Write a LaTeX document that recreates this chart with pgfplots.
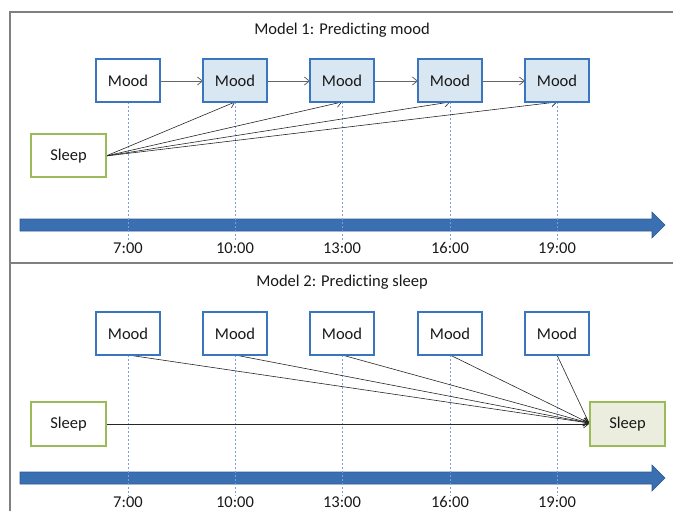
\documentclass[border=0pt]{standalone}
\usepackage{pgfplots}
\pgfplotsset{compat=1.18}
\usepackage{fontspec}
\setmainfont{Carlito}[Ligatures=NoCommon]
\usetikzlibrary{arrows.meta}
\definecolor{moodb}{RGB}{58,118,190}
\definecolor{moodf}{RGB}{216,231,242}
\definecolor{sleepb}{RGB}{155,187,89}
\definecolor{sleepf}{RGB}{235,238,222}
\definecolor{tlf}{RGB}{58,112,178}
\definecolor{tld}{RGB}{44,88,145}
\definecolor{dash}{RGB}{120,160,222}
\definecolor{frame}{RGB}{128,128,128}
\tikzset{
  mbox/.style={draw=moodb, line width=1.4pt, line join=miter},
  sbox/.style={draw=sleepb, line width=1.4pt, line join=miter},
  dl/.style={draw=dash, line width=0.6pt, dash pattern=on 2pt off 2pt},
  ar/.style={draw=black!85, line width=0.6pt, -{Straight Barb[length=5pt,width=8pt]}},
  ag/.style={draw=black!60, line width=0.8pt, -{Straight Barb[length=5pt,width=8pt]}},
  lab/.style={font=\fontsize{16.5}{19}\selectfont, text=black!90, inner sep=0pt}
}
\begin{document}
\begin{tikzpicture}
\begin{axis}[scale only axis, width=673pt, height=511pt,
  xmin=0, xmax=673, ymin=0, ymax=511, y dir=reverse, hide axis, clip=true]
% frame
\addplot[draw=frame, line width=2pt] coordinates {(10,540) (10,12) (700,12)};
\addplot[draw=frame, line width=2pt] coordinates {(10,263) (700,263)};
% timelines
\addplot[fill=tlf, draw=tld, line width=0.6pt] coordinates {(20,219) (652,219) (652,212) (665,225) (652,238) (652,231) (20,231)} -- cycle;
\addplot[fill=tlf, draw=tld, line width=0.6pt] coordinates {(20,472) (652,472) (652,465) (665,478) (652,491) (652,484) (20,484)} -- cycle;
% dashed guides
\addplot[dl] coordinates {(128,102) (128,242)};
\addplot[dl] coordinates {(235,102) (235,242)};
\addplot[dl] coordinates {(342,102) (342,242)};
\addplot[dl] coordinates {(450,102) (450,242)};
\addplot[dl] coordinates {(557,102) (557,242)};
\addplot[dl] coordinates {(128,355) (128,496)};
\addplot[dl] coordinates {(235,355) (235,496)};
\addplot[dl] coordinates {(342,355) (342,496)};
\addplot[dl] coordinates {(450,355) (450,496)};
\addplot[dl] coordinates {(557,355) (557,496)};
% arrows panel 1
\addplot[ag] coordinates {(160,81) (203,81)};
\addplot[ag] coordinates {(267,81) (310,81)};
\addplot[ag] coordinates {(374,81) (418,81)};
\addplot[ag] coordinates {(482,81) (525,81)};
\addplot[ar] coordinates {(106,156) (235,102)};
\addplot[ar] coordinates {(106,156) (342,102)};
\addplot[ar] coordinates {(106,156) (450,102)};
\addplot[ar] coordinates {(106,156) (557,102)};
% arrows panel 2
\addplot[ar] coordinates {(106,424) (589,424)};
\addplot[ar] coordinates {(128,355) (589,423)};
\addplot[ar] coordinates {(235,355) (589,423)};
\addplot[ar] coordinates {(342,355) (589,423)};
\addplot[ar] coordinates {(450,355) (589,423)};
\addplot[ar] coordinates {(557,355) (589,423)};
% boxes panel 1
\addplot[mbox, fill=white] coordinates {(96,59) (160,59) (160,102) (96,102)} -- cycle;
\addplot[mbox, fill=moodf] coordinates {(203,59) (267,59) (267,102) (203,102)} -- cycle;
\addplot[mbox, fill=moodf] coordinates {(310,59) (374,59) (374,102) (310,102)} -- cycle;
\addplot[mbox, fill=moodf] coordinates {(418,59) (482,59) (482,102) (418,102)} -- cycle;
\addplot[mbox, fill=moodf] coordinates {(525,59) (589,59) (589,102) (525,102)} -- cycle;
\addplot[sbox, fill=white] coordinates {(31,134) (106,134) (106,177) (31,177)} -- cycle;
% boxes panel 2
\addplot[mbox, fill=white] coordinates {(96,312) (160,312) (160,355) (96,355)} -- cycle;
\addplot[mbox, fill=white] coordinates {(203,312) (267,312) (267,355) (203,355)} -- cycle;
\addplot[mbox, fill=white] coordinates {(310,312) (374,312) (374,355) (310,355)} -- cycle;
\addplot[mbox, fill=white] coordinates {(418,312) (482,312) (482,355) (418,355)} -- cycle;
\addplot[mbox, fill=white] coordinates {(525,312) (589,312) (589,355) (525,355)} -- cycle;
\addplot[sbox, fill=white] coordinates {(31,402) (106,402) (106,446) (31,446)} -- cycle;
\addplot[sbox, fill=sleepf] coordinates {(590,402) (665,402) (665,446) (590,446)} -- cycle;
% texts
\node[lab] at (axis cs:342,30) {Model 1: Predicting mood};
\node[lab] at (axis cs:342,282) {Model 2: Predicting sleep};
\node[lab] at (axis cs:128,81) {Mood};
\node[lab] at (axis cs:235,81) {Mood};
\node[lab] at (axis cs:342,81) {Mood};
\node[lab] at (axis cs:450,81) {Mood};
\node[lab] at (axis cs:557,81) {Mood};
\node[lab] at (axis cs:68.5,156) {Sleep};
\node[lab] at (axis cs:128,334) {Mood};
\node[lab] at (axis cs:235,334) {Mood};
\node[lab] at (axis cs:342,334) {Mood};
\node[lab] at (axis cs:450,334) {Mood};
\node[lab] at (axis cs:557,334) {Mood};
\node[lab] at (axis cs:68.5,424) {Sleep};
\node[lab] at (axis cs:627.5,424) {Sleep};
\node[lab] at (axis cs:128,248) {7:00};
\node[lab] at (axis cs:235,248) {10:00};
\node[lab] at (axis cs:342,248) {13:00};
\node[lab] at (axis cs:450,248) {16:00};
\node[lab] at (axis cs:557,248) {19:00};
\node[lab] at (axis cs:128,502) {7:00};
\node[lab] at (axis cs:235,502) {10:00};
\node[lab] at (axis cs:342,502) {13:00};
\node[lab] at (axis cs:450,502) {16:00};
\node[lab] at (axis cs:557,502) {19:00};
\end{axis}
\pgfresetboundingbox
\path[use as bounding box] (current axis.south west) rectangle (current axis.north east);
\end{tikzpicture}
\end{document}
